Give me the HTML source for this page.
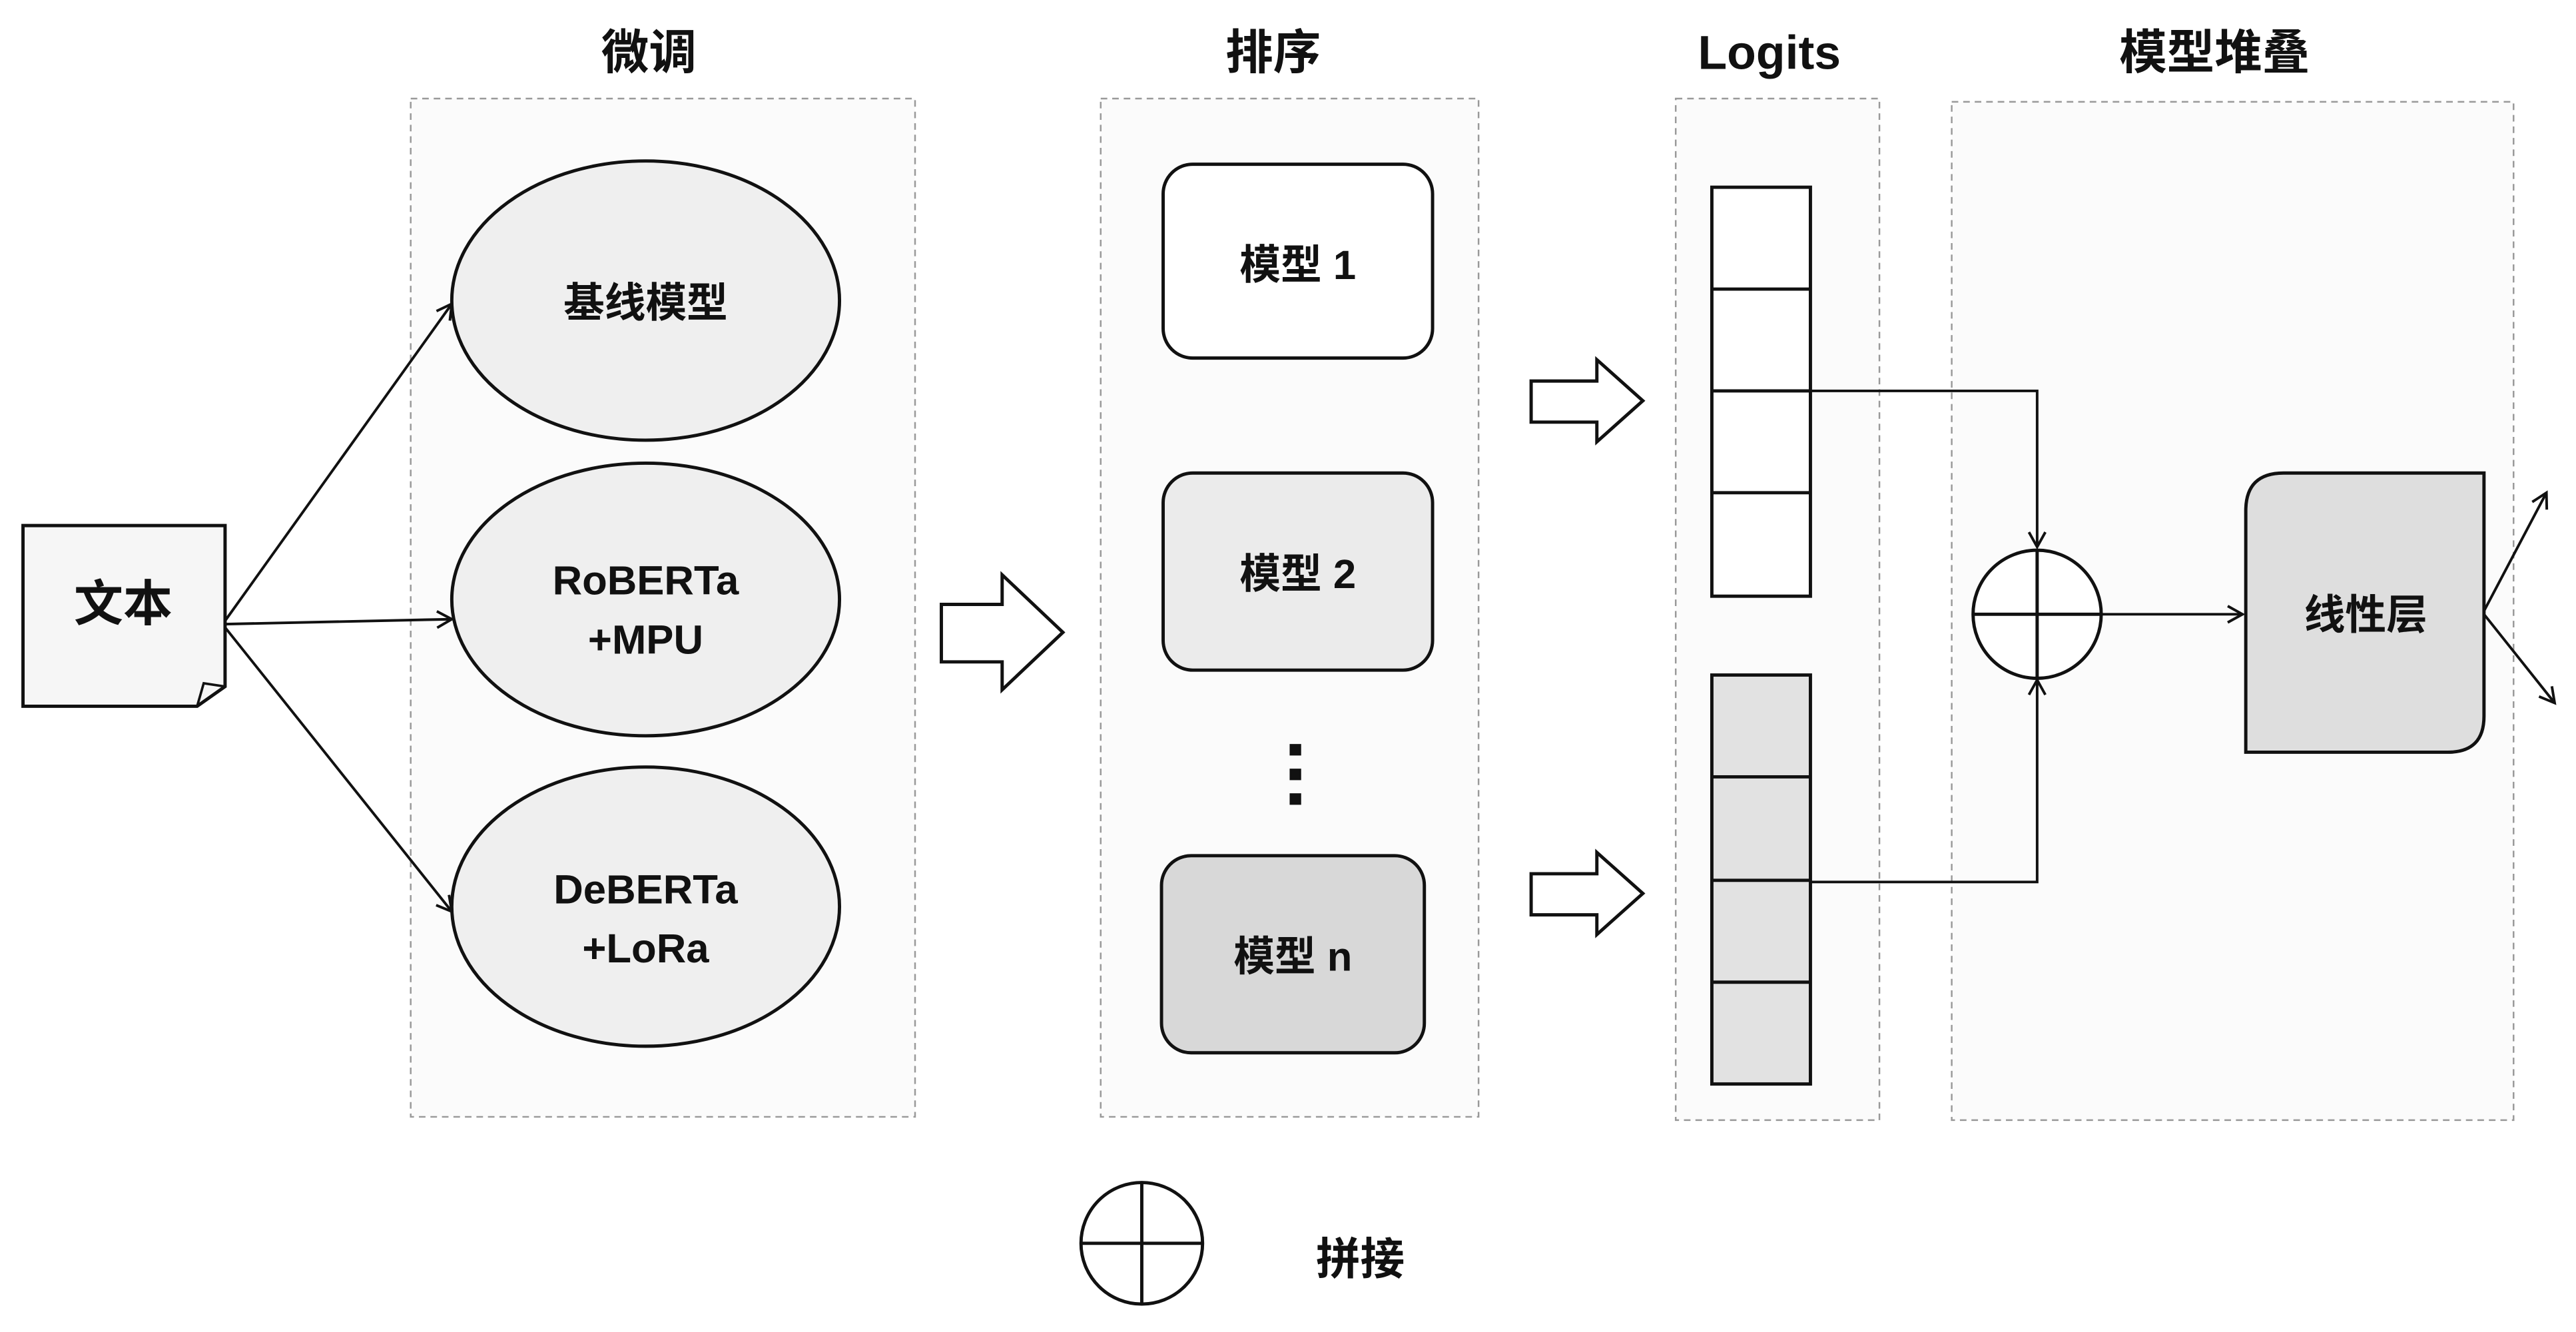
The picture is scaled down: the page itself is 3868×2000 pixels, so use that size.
<!DOCTYPE html>
<html><head><meta charset="utf-8"><style>
html,body{margin:0;padding:0;background:#fff;}
svg{display:block;}
text{font-family:"Liberation Sans","Noto Sans CJK SC",sans-serif;font-weight:bold;fill:#111;}
</style></head><body>
<svg width="3868" height="2000" viewBox="0 0 1568 811" preserveAspectRatio="none" xmlns="http://www.w3.org/2000/svg">
<defs>
<marker id="ah" markerWidth="12" markerHeight="12" refX="10" refY="6" orient="auto" markerUnits="userSpaceOnUse">
<path d="M1,1 L10,6 L1,11" fill="none" stroke="#111" stroke-width="1.6"/>
</marker>
</defs>
<rect width="1568" height="811" fill="#fff"/>
<!-- titles -->
<text x="395" y="42" font-size="29" text-anchor="middle">微调</text>
<text x="775" y="42" font-size="29" text-anchor="middle">排序</text>
<text x="1077" y="42" font-size="29" text-anchor="middle">Logits</text>
<text x="1348" y="42" font-size="29" text-anchor="middle">模型堆叠</text>
<!-- dashed boxes -->
<g fill="#fbfbfb" stroke="#999" stroke-width="1" stroke-dasharray="4,3">
<rect x="250" y="60" width="307" height="620"/>
<rect x="670" y="60" width="230" height="620"/>
<rect x="1020" y="60" width="124" height="622"/>
<rect x="1188" y="62" width="342" height="620"/>
</g>
<!-- document -->
<path d="M14,320 L137,320 L137,418 L120,430 L14,430 Z" fill="#f6f6f6" stroke="#111" stroke-width="2"/>
<path d="M137,418 L124,416 L120,430" fill="none" stroke="#111" stroke-width="1.5"/>
<text x="75" y="378" font-size="30" text-anchor="middle">文本</text>
<!-- arrows to ellipses -->
<g stroke="#111" stroke-width="1.6" fill="none" marker-end="url(#ah)">
<line x1="137" y1="378" x2="275" y2="185"/>
<line x1="137" y1="380" x2="275" y2="377"/>
<line x1="137" y1="382" x2="275" y2="555"/>
</g>
<!-- ellipses -->
<g fill="#efefef" stroke="#111" stroke-width="2">
<ellipse cx="393" cy="183" rx="118" ry="85"/>
<ellipse cx="393" cy="365" rx="118" ry="83"/>
<ellipse cx="393" cy="552" rx="118" ry="85"/>
</g>
<text x="393" y="193" font-size="25" text-anchor="middle">基线模型</text>
<text x="393" y="362" font-size="25" text-anchor="middle">RoBERTa</text>
<text x="393" y="398" font-size="25" text-anchor="middle">+MPU</text>
<text x="393" y="550" font-size="25" text-anchor="middle">DeBERTa</text>
<text x="393" y="586" font-size="25" text-anchor="middle">+LoRa</text>
<!-- block arrows -->
<g fill="#fff" stroke="#111" stroke-width="2">
<path d="M573,368 L610,368 L610,350 L647,385 L610,420 L610,403 L573,403 Z"/>
<path d="M932,232 L972,232 L972,219 L1000,244 L972,269 L972,257 L932,257 Z"/>
<path d="M932,532 L972,532 L972,519 L1000,544 L972,569 L972,557 L932,557 Z"/>
</g>
<!-- model boxes -->
<rect x="708" y="100" width="164" height="118" rx="18" fill="#fff" stroke="#111" stroke-width="2"/>
<rect x="708" y="288" width="164" height="120" rx="18" fill="#ebebeb" stroke="#111" stroke-width="2"/>
<rect x="707" y="521" width="160" height="120" rx="18" fill="#d8d8d8" stroke="#111" stroke-width="2"/>
<text x="790" y="170" font-size="25" text-anchor="middle">模型 1</text>
<text x="790" y="358" font-size="25" text-anchor="middle">模型 2</text>
<text x="787" y="591" font-size="25" text-anchor="middle">模型 n</text>
<g fill="#111"><rect x="785" y="453" width="7" height="7"/><rect x="785" y="468" width="7" height="7"/><rect x="785" y="483" width="7" height="7"/></g>
<!-- logits -->
<g stroke="#111" stroke-width="2">
<rect x="1042" y="114" width="60" height="249" fill="#fff"/>
<line x1="1042" y1="176" x2="1102" y2="176"/><line x1="1042" y1="238" x2="1102" y2="238"/><line x1="1042" y1="300" x2="1102" y2="300"/>
<rect x="1042" y="411" width="60" height="249" fill="#e2e2e2"/>
<line x1="1042" y1="473" x2="1102" y2="473"/><line x1="1042" y1="536" x2="1102" y2="536"/><line x1="1042" y1="598" x2="1102" y2="598"/>
</g>
<g stroke="#111" stroke-width="1.6" fill="none">
<polyline points="1102,238 1240,238 1240,333" marker-end="url(#ah)"/>
<polyline points="1102,537 1240,537 1240,414" marker-end="url(#ah)"/>
<line x1="1279" y1="374" x2="1365" y2="374" marker-end="url(#ah)"/>
<line x1="1512" y1="372" x2="1550" y2="300" marker-end="url(#ah)"/>
<line x1="1512" y1="374" x2="1555" y2="428" marker-end="url(#ah)"/>
</g>
<circle cx="1240" cy="374" r="39" fill="#fff" stroke="#111" stroke-width="2"/>
<line x1="1201" y1="374" x2="1279" y2="374" stroke="#111" stroke-width="2"/>
<line x1="1240" y1="335" x2="1240" y2="413" stroke="#111" stroke-width="2"/>
<!-- linear layer -->
<path d="M1390,288 L1512,288 L1512,436 Q1512,458 1490,458 L1367,458 L1367,311 Q1367,288 1390,288 Z" fill="#dedede" stroke="#111" stroke-width="2"/>
<text x="1440" y="383" font-size="25" text-anchor="middle">线性层</text>
<!-- legend -->
<circle cx="695" cy="757" r="37" fill="#fff" stroke="#111" stroke-width="2"/>
<line x1="658" y1="757" x2="732" y2="757" stroke="#111" stroke-width="2"/>
<line x1="695" y1="720" x2="695" y2="794" stroke="#111" stroke-width="2"/>
<text x="828" y="776" font-size="27" text-anchor="middle">拼接</text>
</svg>
</body></html>
